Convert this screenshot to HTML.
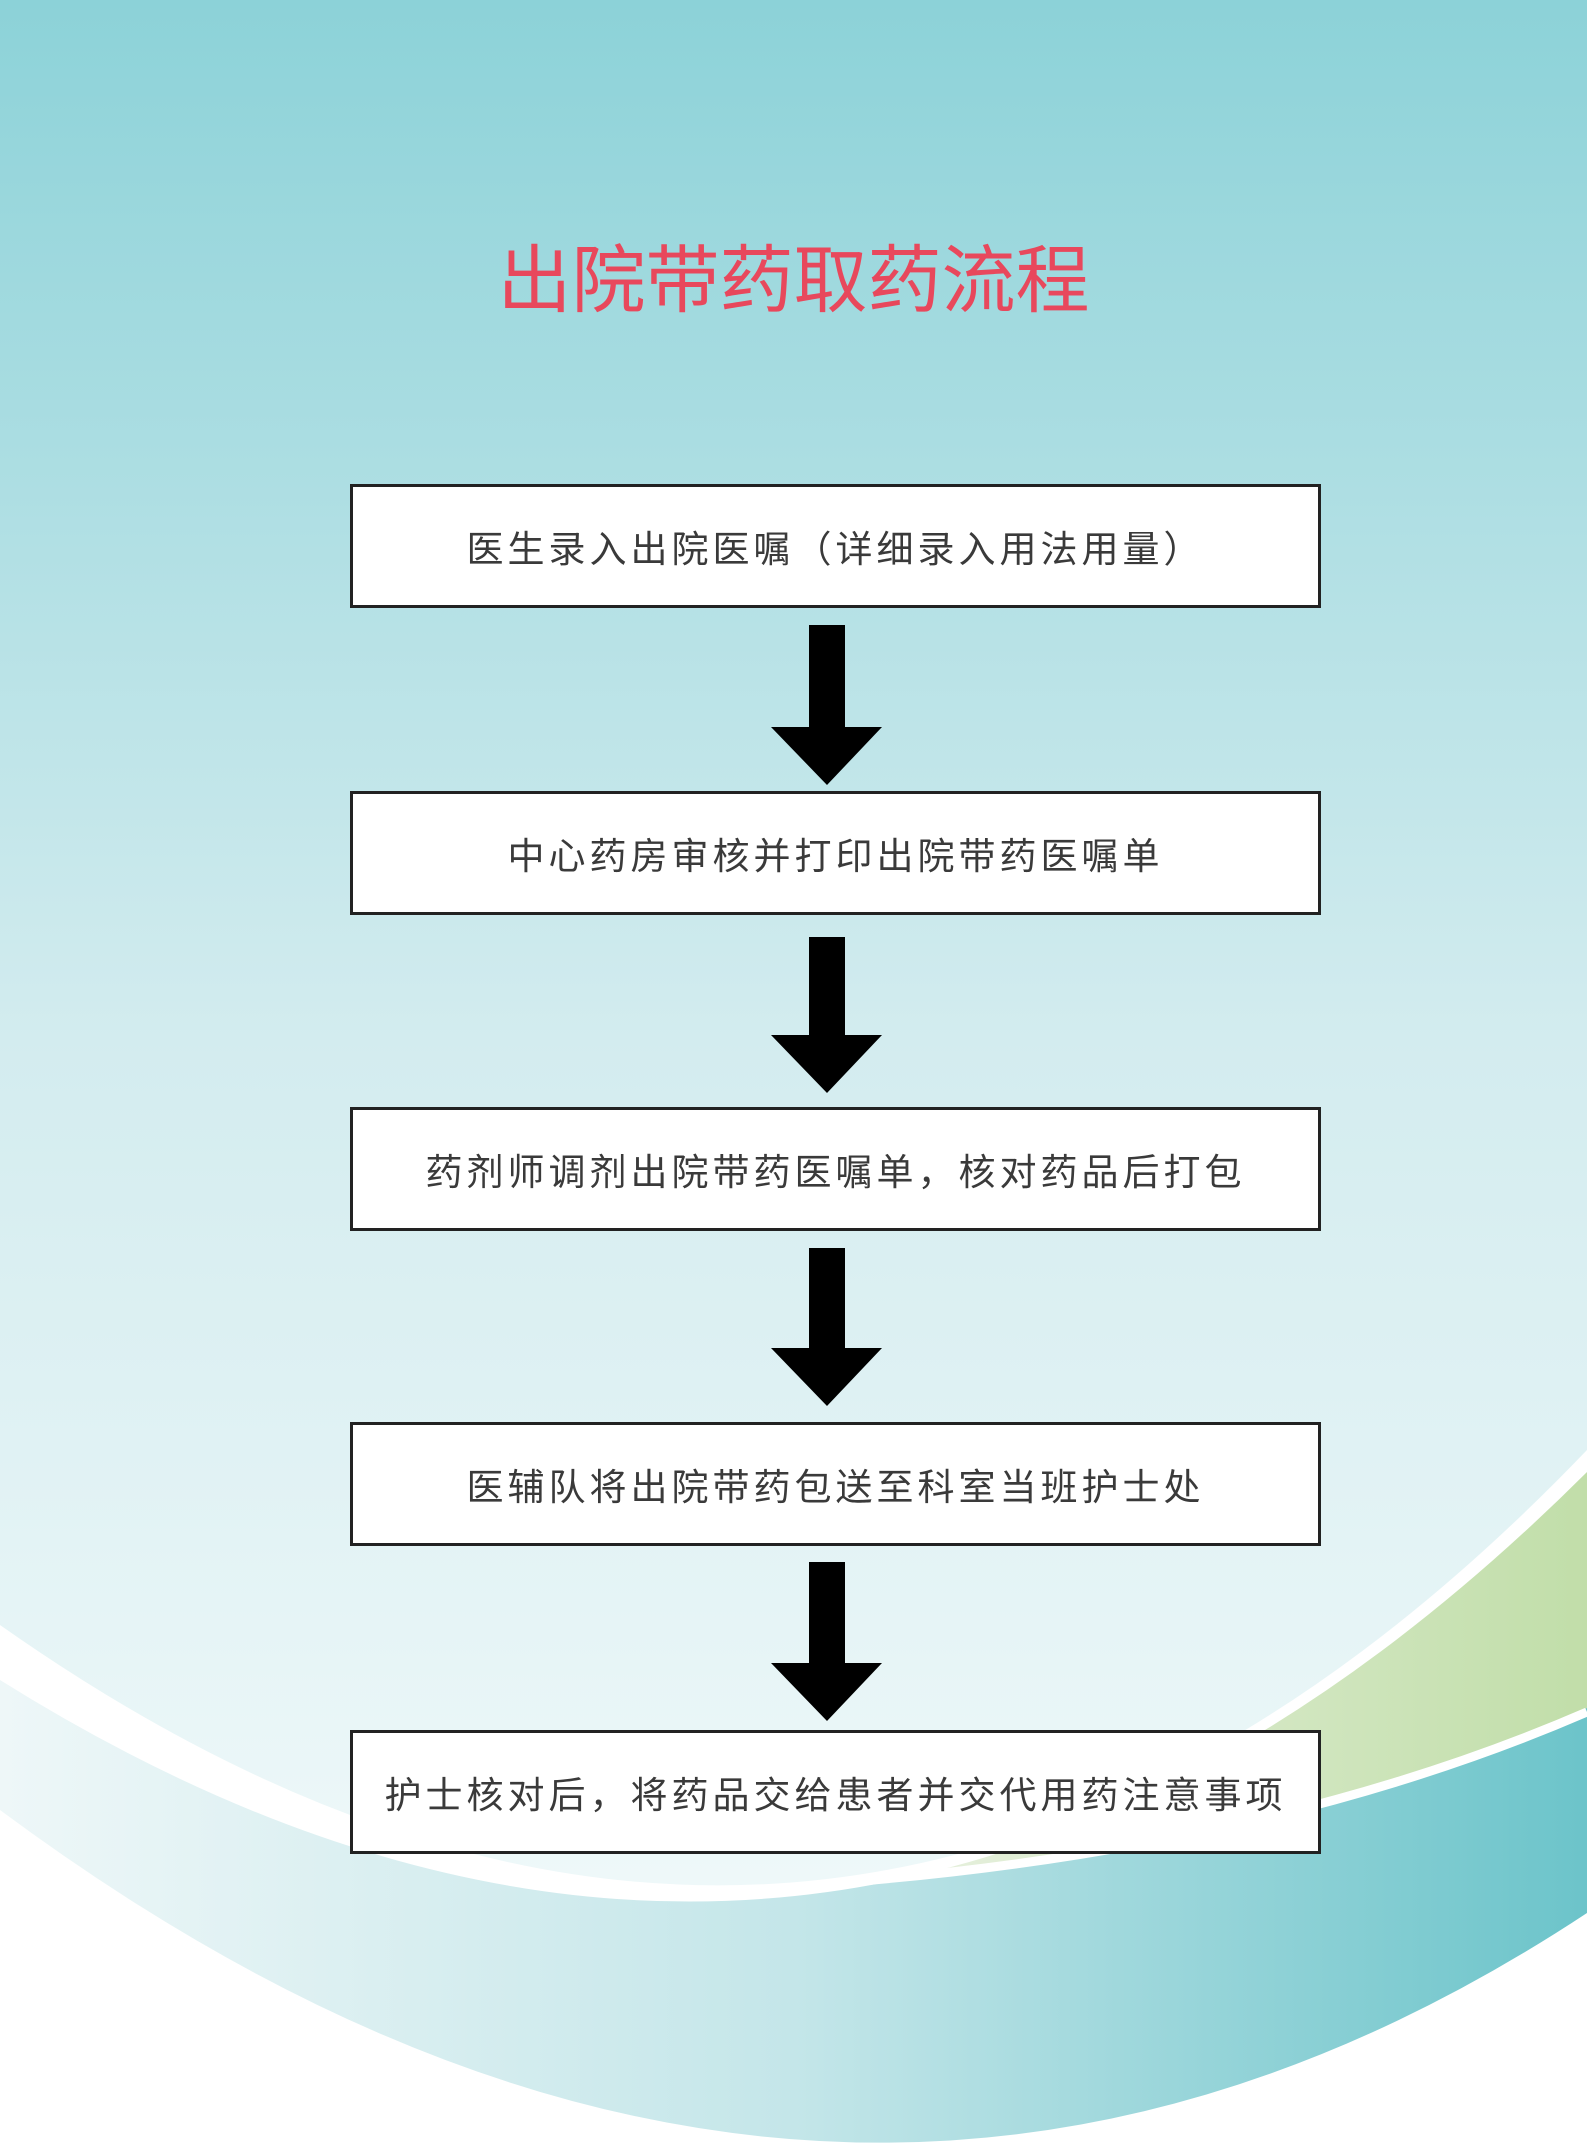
<!DOCTYPE html>
<html><head><meta charset="utf-8"><style>
html,body{margin:0;padding:0}
body{width:1587px;height:2151px;position:relative;overflow:hidden;background:#fff;font-family:"Liberation Sans","Noto Sans CJK SC",sans-serif}
svg{position:absolute;left:0;top:0}
.t{position:absolute;left:0;width:1587px;top:238px;text-align:center;font-size:74px;color:#e8485c;line-height:86px;letter-spacing:0px}
.b{position:absolute;left:350px;width:965px;height:118px;border:3px solid #222;background:#fff;box-sizing:content-box;display:flex;align-items:center;justify-content:center;font-size:37px;color:#3a3a3a;white-space:nowrap;letter-spacing:4px}
</style></head><body>
<svg width="1587" height="2151" viewBox="0 0 1587 2151">
<defs>
<linearGradient id="bg" x1="0" y1="0" x2="0" y2="1"><stop offset="0" stop-color="#8cd2d8"/><stop offset="0.55" stop-color="#d3ecef"/><stop offset="1" stop-color="#eef8f9"/></linearGradient>
<linearGradient id="teal" x1="0" y1="0" x2="1" y2="0"><stop offset="0" stop-color="#eef7f8"/><stop offset="0.5" stop-color="#c4e6e9"/><stop offset="1" stop-color="#6cc4ca"/></linearGradient>
<linearGradient id="green" x1="0" y1="0" x2="1" y2="0"><stop offset="0" stop-color="#eef4e8"/><stop offset="1" stop-color="#c1dea9"/></linearGradient>
</defs>
<path d="M0,1600 V1810 Q820,2419 1587,1913 V1400 Z" fill="url(#teal)"/>
<path d="M1587,1455 L1587,1708 Q1250,1855 780,1885 Q1200,1820 1587,1455 Z" fill="url(#green)"/>
<path d="M1587,1712 Q1250,1858 780,1887" fill="none" stroke="#fff" stroke-width="9"/>
<path d="M1587,1440 V1472 Q847,2210 0,1680 V1620 Z" fill="#fff"/>
<path d="M0,0 H1587 V1450 Q847,2222 0,1625 Z" fill="url(#bg)"/>
<g fill="#000">
<path d="M809,625 H845 V727 H882 L827,785 L771,727 H809 Z"/>
<path d="M809,937 H845 V1035 H882 L827,1093 L771,1035 H809 Z"/>
<path d="M809,1248 H845 V1348 H882 L827,1406 L771,1348 H809 Z"/>
<path d="M809,1562 H845 V1663 H882 L827,1721 L771,1663 H809 Z"/>
</g>
</svg>
<div class="t">出院带药取药流程</div>
<div class="b" style="top:484px">医生录入出院医嘱（详细录入用法用量）</div>
<div class="b" style="top:791px">中心药房审核并打印出院带药医嘱单</div>
<div class="b" style="top:1107px">药剂师调剂出院带药医嘱单，核对药品后打包</div>
<div class="b" style="top:1422px">医辅队将出院带药包送至科室当班护士处</div>
<div class="b" style="top:1730px">护士核对后，将药品交给患者并交代用药注意事项</div>
</body></html>
